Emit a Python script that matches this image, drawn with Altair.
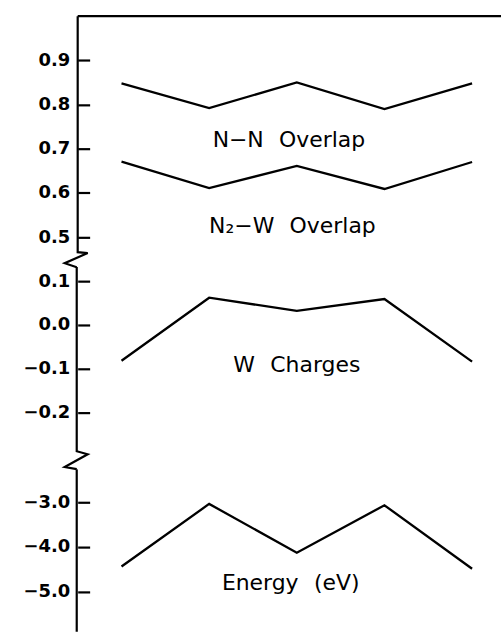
import altair as alt
import pandas as pd

# ---- data ----
x_idx = [0, 1, 2, 3, 4]
nn_overlap = [0.848, 0.792, 0.850, 0.790, 0.848]
n2w_overlap = [0.671, 0.611, 0.661, 0.609, 0.670]
w_charges = [-0.082, 0.062, 0.032, 0.059, -0.084]
energy = [-4.44, -3.04, -4.13, -3.07, -4.49]

top_ticks = [0.5, 0.6, 0.7, 0.8, 0.9]
mid_ticks = [-0.2, -0.1, 0.0, 0.1]
bot_ticks = [-5.0, -4.0, -3.0]

top_domain = [0.45, 1.0]
mid_domain = [-0.31, 0.15]
bot_domain = [-5.9, -2.067]
x_domain = [-0.5, 4.33]

GAP = "\u2002\u2009"
label_text_top = ["N\u2212N" + GAP + "Overlap", "N\u2082\u2212W" + GAP + "Overlap"]
label_x_top = [1.91, 1.95]
label_y_top = [0.72, 0.525]
label_text_mid = ["W" + GAP + "Charges"]
label_x_mid = [2.0]
label_y_mid = [-0.091]
label_text_bot = ["Energy" + GAP + "(eV)"]
label_x_bot = [1.93]
label_y_bot = [-4.82]

# axis line with break marks (decoration), in each panel's units
axis_x_top = [-0.5, -0.5, -0.386, -0.648, -0.511]
axis_y_top = [1.0, 0.466, 0.464, 0.441, 0.432]
axis_x_mid = [-0.511, -0.511, -0.386, -0.648, -0.511]
axis_y_mid = [0.132, -0.289, -0.296, -0.325, -0.330]
axis_x_bot = [-0.511, -0.511]
axis_y_bot = [-2.267, -5.9]

FONT = "DejaVu Sans"
W = 425

xs = alt.Scale(domain=x_domain, nice=False, zero=False)


def panel(series_list, ticks, domain, height, ax_x, ax_y, lt, lx, ly, top_rule=False):
    ys = alt.Scale(domain=domain, nice=False, zero=False)
    rows = []
    for si, vals in enumerate(series_list):
        for xi, v in zip(x_idx, vals):
            rows.append({"s": si, "x": xi, "v": v})
    df = pd.DataFrame(rows)
    lines = alt.Chart(df).mark_line(color="black", strokeWidth=2.3, clip=False).encode(
        x=alt.X("x:Q", scale=xs, axis=None),
        y=alt.Y("v:Q", scale=ys, axis=alt.Axis(values=ticks, format=".1f")),
        detail="s:N",
        order="x:Q",
    )
    adf = pd.DataFrame({"x": ax_x, "v": ax_y, "o": list(range(len(ax_x)))})
    axis_line = alt.Chart(adf).mark_line(color="black", strokeWidth=2.2, clip=False).encode(
        x=alt.X("x:Q", scale=xs, axis=None),
        y=alt.Y("v:Q", scale=ys),
        order="o:Q",
    )
    tdf = pd.DataFrame({"t": lt, "x": lx, "v": ly})
    texts = alt.Chart(tdf).mark_text(
        font=FONT, fontSize=22, color="black", align="center", baseline="middle"
    ).encode(
        x=alt.X("x:Q", scale=xs, axis=None),
        y=alt.Y("v:Q", scale=ys),
        text="t:N",
    )
    layers = [lines, axis_line, texts]
    if top_rule:
        rule = alt.Chart(pd.DataFrame({"a": [0]})).mark_rule(color="black", strokeWidth=2.2).encode(
            x=alt.value(0), x2=alt.value(W), y=alt.value(0)
        )
        layers.append(rule)
    return alt.layer(*layers).properties(width=W, height=height)


p1 = panel([nn_overlap, n2w_overlap], top_ticks, top_domain, 244,
           axis_x_top, axis_y_top, label_text_top, label_x_top, label_y_top, top_rule=True)
p2 = panel([w_charges], mid_ticks, mid_domain, 202,
           axis_x_mid, axis_y_mid, label_text_mid, label_x_mid, label_y_mid)
p3 = panel([energy], bot_ticks, bot_domain, 172,
           axis_x_bot, axis_y_bot, label_text_bot, label_x_bot, label_y_bot)

chart = alt.vconcat(p1, p2, p3, spacing=0, bounds="flush").resolve_scale(
    y="independent"
).properties(
    padding={"left": 23, "top": 10, "right": 0, "bottom": 0},
).configure_view(stroke=None).configure_axis(
    labelFont=FONT, labelFontSize=18, labelFontWeight="bold", labelColor="black",
    tickColor="black", tickWidth=2.2, tickSize=12, labelPadding=8,
    domain=False, grid=False, offset=-12, title=None,
)

chart.save("out.html", embed_options={"renderer": "svg", "actions": False})
